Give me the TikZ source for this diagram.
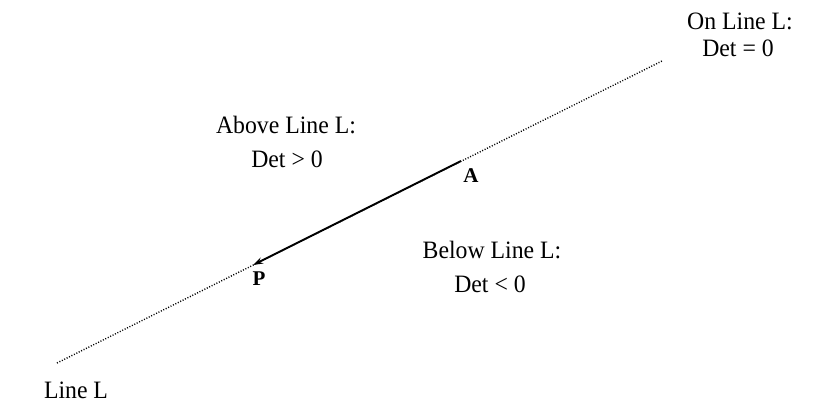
\documentclass[tikz,border=0pt]{standalone}
\usepackage{fontspec}
\setmainfont{Liberation Serif}
\usetikzlibrary{arrows.meta}
\tikzset{
  lbl/.style={font=\fontsize{25}{28}\selectfont, anchor=base, inner sep=0pt, xscale=0.95},
  pt/.style={font=\fontsize{21}{24}\selectfont\bfseries, inner sep=0pt},
  dotline/.style={line width=1.4pt, dash pattern=on 1pt off 1.7pt},
  vec/.style={line width=1.8pt, -{Stealth[length=10pt,width=6.5pt]}}
}
\begin{document}
\begin{tikzpicture}[x=1pt,y=1pt]
\useasboundingbox (0,0) rectangle (814,408);
\coordinate (L1) at (57,45);
\coordinate (L2) at (662,347);
\coordinate (Atail) at (461,247);
\coordinate (Ptip) at (253,143);
\draw[dotline] (L1) -- (L2);
\draw[vec] (Atail) -- (Ptip);
\node[pt] (P) at (259,129) {P};
\node[pt] (A) at (471,232) {A};
\node[lbl] (above1) at (286,275) {Above Line L:};
\node[lbl] (above2) at (287,241) {Det > 0};
\node[lbl] (below1) at (492,150) {Below Line L:};
\node[lbl] (below2) at (490,116) {Det < 0};
\node[lbl] (on1) at (740,378) {On Line L:};
\node[lbl] (on2) at (738,351) {Det = 0};
\node[lbl] (line) at (76,10) {Line L};
\end{tikzpicture}
\end{document}
